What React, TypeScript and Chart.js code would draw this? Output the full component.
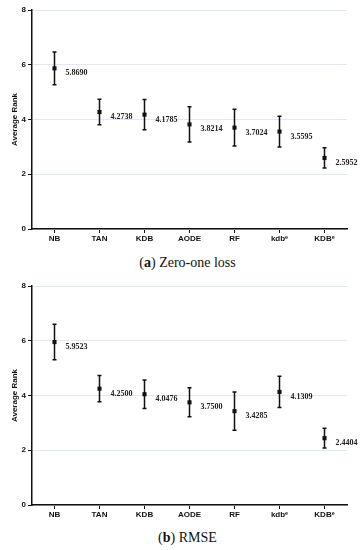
import React, { useEffect, useRef } from "react";
import { Chart, registerables } from "chart.js";

Chart.register(...registerables);

const categories = ["NB", "TAN", "KDB", "AODE", "RF", "kdbᵉ", "KDBᵉ"];
const yTicks = [0, 2, 4, 6, 8];

const zeroOneRank = [5.869, 4.2738, 4.1785, 3.8214, 3.7024, 3.5595, 2.5952];
const zeroOneErr = [0.6, 0.47, 0.55, 0.64, 0.67, 0.56, 0.37];
const zeroOneLabels = ["5.8690", "4.2738", "4.1785", "3.8214", "3.7024", "3.5595", "2.5952"];

const rmseRank = [5.9523, 4.25, 4.0476, 3.75, 3.4285, 4.1309, 2.4404];
const rmseErr = [0.65, 0.48, 0.52, 0.53, 0.7, 0.57, 0.36];
const rmseLabels = ["5.9523", "4.2500", "4.0476", "3.7500", "3.4285", "4.1309", "2.4404"];

const captionA = "Zero-one loss";
const captionB = "RMSE";

const errorBarPlugin = {
  id: "errorBars",
  beforeDatasetsDraw(chart: any, _args: any, opts: any) {
    const { ctx } = chart;
    const x = chart.scales.x;
    const y = chart.scales.y;
    const vals: number[] = chart.data.datasets[0].data;
    const err: number[] = opts.err || [];
    ctx.save();
    ctx.strokeStyle = "#111";
    ctx.lineWidth = 1.5;
    vals.forEach((v, i) => {
      const px = x.getPixelForValue(i);
      const top = y.getPixelForValue(v + err[i]);
      const bot = y.getPixelForValue(v - err[i]);
      ctx.beginPath();
      ctx.moveTo(px, top);
      ctx.lineTo(px, bot);
      ctx.moveTo(px - 2, top);
      ctx.lineTo(px + 2, top);
      ctx.moveTo(px - 2, bot);
      ctx.lineTo(px + 2, bot);
      ctx.stroke();
    });
    ctx.restore();
  },
  afterDatasetsDraw(chart: any, _args: any, opts: any) {
    const { ctx } = chart;
    const x = chart.scales.x;
    const y = chart.scales.y;
    const vals: number[] = chart.data.datasets[0].data;
    const labels: string[] = opts.labels || [];
    ctx.save();
    ctx.fillStyle = "#222";
    ctx.font = "bold 8px 'Liberation Serif', serif";
    ctx.textAlign = "left";
    ctx.textBaseline = "middle";
    vals.forEach((v, i) => {
      const px = x.getPixelForValue(i);
      const py = y.getPixelForValue(v);
      ctx.fillText(labels[i], px + 11, py + 5);
    });
    ctx.restore();
  },
};

function RankChart({ ranks, errs, labels }: { ranks: number[]; errs: number[]; labels: string[] }) {
  const ref = useRef<HTMLCanvasElement>(null);
  useEffect(() => {
    if (!ref.current) return;
    const tickFont = { family: "'Liberation Sans', Arial, sans-serif", size: 8, weight: "bold" as const };
    const chart = new Chart(ref.current, {
      type: "line",
      data: {
        labels: categories,
        datasets: [
          {
            data: ranks,
            showLine: false,
            pointStyle: "rect",
            pointRadius: 2.9,
            pointBackgroundColor: "#111",
            pointBorderColor: "#111",
            pointBorderWidth: 0,
          },
        ],
      },
      options: {
        responsive: false,
        animation: false,
        layout: { padding: { top: 10, right: 16, left: 0, bottom: 0 } },
        plugins: {
          legend: { display: false },
          tooltip: { enabled: false },
          errorBars: { err: errs, labels },
        } as any,
        scales: {
          x: {
            type: "category",
            offset: true,
            grid: { display: true, drawOnChartArea: false, drawTicks: true, tickLength: 4, color: "#111", offset: false },
            border: { display: true, color: "#111", width: 1.5 },
            ticks: { font: tickFont, color: "#111", padding: 1, maxRotation: 0, autoSkip: false },
            afterFit(scale: any) {
              scale.height = 21;
            },
          },
          y: {
            min: yTicks[0],
            max: yTicks[yTicks.length - 1],
            afterBuildTicks(scale: any) {
              scale.ticks = yTicks.map((v) => ({ value: v }));
            },
            grid: { color: "#dde9f7", lineWidth: 1, tickColor: "#111", tickLength: 4, drawTicks: true },
            border: { display: true, color: "#111", width: 1.5 },
            ticks: { font: tickFont, color: "#111", padding: 2 },
            title: {
              display: true,
              text: "Average Rank",
              font: tickFont,
              color: "#111",
              padding: { top: 10, bottom: 0 },
            },
            afterFit(scale: any) {
              scale.width = 32;
            },
          },
        },
      },
      plugins: [errorBarPlugin],
    });
    return () => chart.destroy();
  }, [ranks, errs, labels]);
  return <canvas ref={ref} width={363} height={250} style={{ width: 363, height: 250, display: "block" }} />;
}

const captionStyle: React.CSSProperties = {
  position: "absolute",
  left: 0,
  width: 375,
  textAlign: "center",
  fontFamily: "'Liberation Serif', serif",
  fontSize: 14,
  lineHeight: "16px",
  color: "#111",
};

export default function App() {
  return (
    <div style={{ position: "absolute", left: 0, top: 0, width: 363, height: 550, background: "#fff", overflow: "hidden" }}>
      <div style={{ position: "absolute", left: 0, top: 0 }}>
        <RankChart ranks={zeroOneRank} errs={zeroOneErr} labels={zeroOneLabels} />
      </div>
      <div style={{ ...captionStyle, top: 255 }}>
        (<b>a</b>) {captionA}
      </div>
      <div style={{ position: "absolute", left: 0, top: 276 }}>
        <RankChart ranks={rmseRank} errs={rmseErr} labels={rmseLabels} />
      </div>
      <div style={{ ...captionStyle, top: 530 }}>
        (<b>b</b>) {captionB}
      </div>
    </div>
  );
}
